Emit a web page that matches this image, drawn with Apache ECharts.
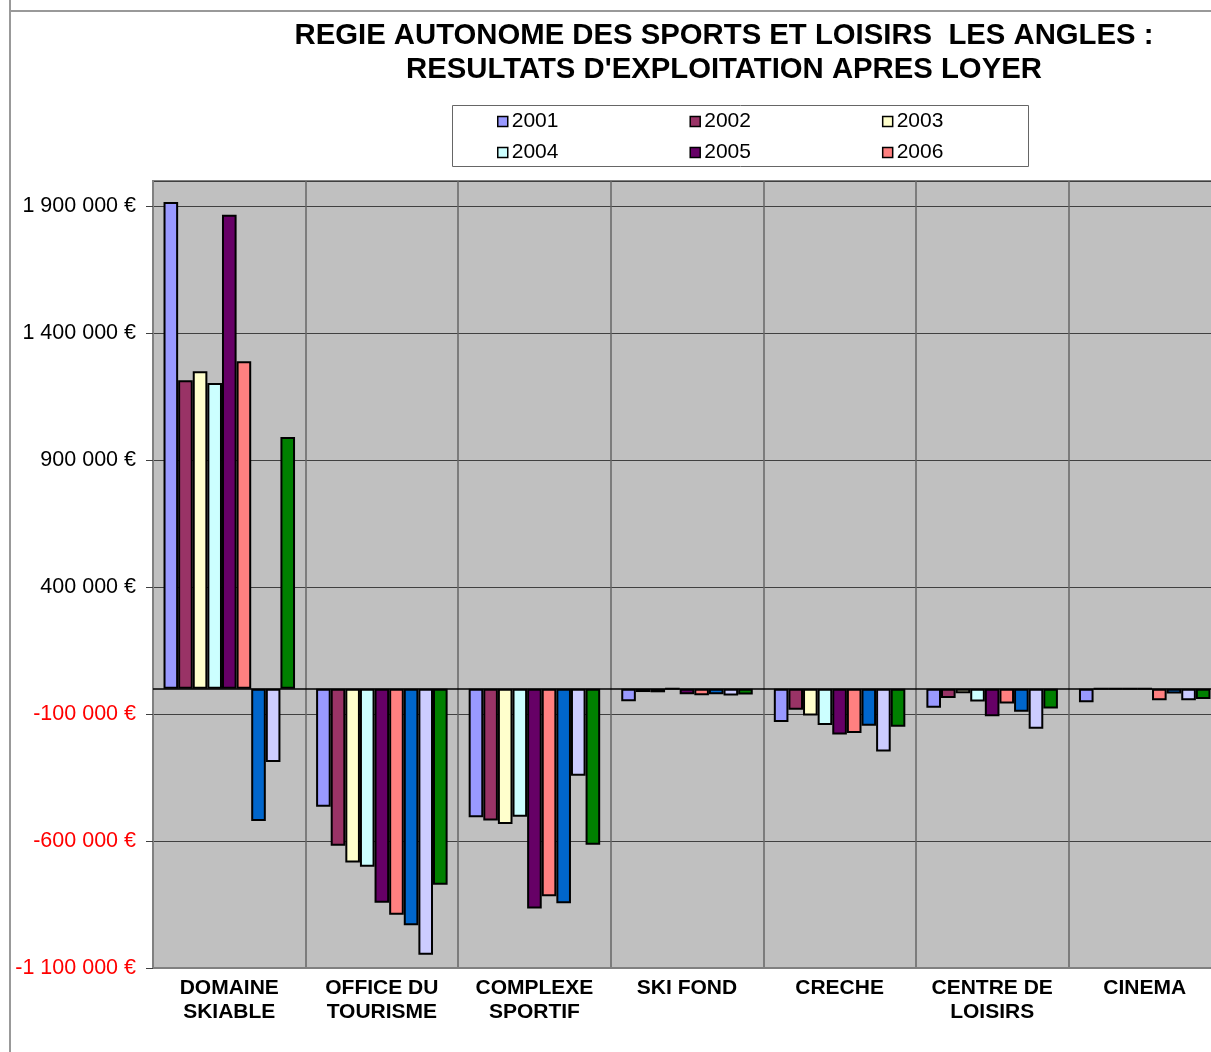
<!DOCTYPE html>
<html>
<head>
<meta charset="utf-8">
<script src="https://cdn.jsdelivr.net/npm/echarts@6/dist/echarts.min.js"></script>
<style>html,body{margin:0;padding:0;background:#fff;overflow:hidden}#c{width:1221px;height:1052px}</style>
</head>
<body>
<div id="c"></div>
<script>
var categories = ['DOMAINE\nSKIABLE', 'OFFICE DU\nTOURISME', 'COMPLEXE\nSPORTIF', 'SKI FOND', 'CRECHE', 'CENTRE DE\nLOISIRS', 'CINEMA'];
var seriesNames = ['2001', '2002', '2003', '2004', '2005', '2006', 'Série 7', 'Série 8', 'Série 9'];
var legendRow1 = ['2001', '2002', '2003'];
var legendRow2 = ['2004', '2005', '2006'];
var s2001 = [1917000, -465000, -506000, -49000, -131000, -75000, -53000];
var s2002 = [1215000, -618000, -519000, -13000, -83000, -36000, 0];
var s2003 = [1251000, -684000, -533000, -14000, -105000, -18000, 0];
var s2004 = [1204000, -701000, -504000, 0, -143000, -50000, 0];
var s2005 = [1867000, -843000, -866000, -22000, -180000, -108000, 0];
var s2006 = [1290000, -890000, -817000, -26000, -174000, -58000, -45000];
var s7 = [-521000, -932000, -845000, -22000, -146000, -91000, -19000];
var s8 = [-289000, -1048000, -343000, -27000, -247000, -158000, -45000];
var s9 = [992000, -772000, -615000, -23000, -150000, -78000, -40000];
var yTicks = { min: -1100000, max: 2000000, interval: 500000 };

var allValues = [s2001, s2002, s2003, s2004, s2005, s2006, s7, s8, s9];
var colors = ['#9999FF', '#993366', '#FFFFCC', '#CCFFFF', '#660066', '#FF8080', '#0066CC', '#CCCCFF', '#008000'];
var FONT = 'Liberation Sans, Arial, sans-serif';

function fmt(v) {
  var neg = v < 0;
  var s = String(Math.abs(v)).replace(/\B(?=(\d{3})+(?!\d))/g, ' ');
  return (neg ? '-' : '') + s + ' €';
}

var series = seriesNames.map(function (n, i) {
  var s = {
    name: n,
    type: 'bar',
    data: allValues[i],
    barGap: '0%',
    barCategoryGap: '13.8%',
    itemStyle: { color: colors[i], borderColor: '#000', borderWidth: 2 },
    emphasis: { disabled: true }
  };
  if (i === 0) {
    s.markLine = {
      silent: true, symbol: 'none', label: { show: false },
      lineStyle: { color: '#000', width: 1.5, type: 'solid' },
      data: [{ yAxis: 0 }]
    };
  }
  return s;
});

var legendCommon = {
  orient: 'horizontal', itemWidth: 10, itemHeight: 10, itemGap: 131,
  icon: 'rect', selectedMode: false,
  itemStyle: { borderColor: '#000', borderWidth: 1.5 },
  textStyle: { fontFamily: FONT, fontSize: 21, color: '#000', padding: [0, 0, 0, -1] },
  padding: 0
};

var chart = echarts.init(document.getElementById('c'));
chart.setOption({
  animation: false,
  backgroundColor: '#fff',
  title: {
    text: 'REGIE AUTONOME DES SPORTS ET LOISIRS  LES ANGLES :\nRESULTATS D\'EXPLOITATION APRES LOYER',
    left: 724, top: 19, textAlign: 'center', padding: 0,
    textStyle: { fontFamily: FONT, fontSize: 29.3, fontWeight: 'bold', color: '#000', lineHeight: 34 }
  },
  legend: [
    Object.assign({}, legendCommon, { data: legendRow1, left: 497, top: 111 }),
    Object.assign({}, legendCommon, { data: legendRow2, left: 497, top: 142 })
  ],
  graphic: [
    { type: 'line', shape: { x1: 10, y1: 0, x2: 10, y2: 1052 }, style: { stroke: '#999', lineWidth: 2 }, z: -1 },
    { type: 'line', shape: { x1: 10, y1: 11, x2: 1221, y2: 11 }, style: { stroke: '#999', lineWidth: 2 }, z: -1 },
    { type: 'rect', shape: { x: 452.5, y: 105.5, width: 576, height: 61 }, style: { fill: '#fff', stroke: '#666', lineWidth: 1 }, z: -1 }
  ],
  grid: {
    left: 153, top: 181, right: 0, bottom: 84,
    show: true, backgroundColor: '#C0C0C0', borderColor: '#808080', borderWidth: 2,
    containLabel: false
  },
  xAxis: {
    type: 'category',
    data: categories,
    axisLine: { onZero: false, lineStyle: { color: '#808080', width: 2 } },
    axisTick: { show: false },
    splitLine: { show: true, lineStyle: { color: '#666', width: 1.5 } },
    axisLabel: {
      interval: 0, margin: 8, fontFamily: FONT, fontSize: 21, fontWeight: 'bold',
      color: '#000', lineHeight: 24
    }
  },
  yAxis: {
    type: 'value',
    min: yTicks.min, max: yTicks.max, interval: yTicks.interval,
    axisLine: { show: true, lineStyle: { color: '#808080', width: 2 } },
    axisTick: { show: true, length: 7, lineStyle: { color: '#404040', width: 1 } },
    splitLine: { show: true, lineStyle: { color: '#404040', width: 1 } },
    axisLabel: {
      showMaxLabel: false, margin: 17,
      formatter: function (v) { return v < 0 ? '{r|' + fmt(v) + '}' : '{b|' + fmt(v) + '}'; },
      rich: {
        r: { color: '#FF0000', fontFamily: FONT, fontSize: 21.5 },
        b: { color: '#000', fontFamily: FONT, fontSize: 21.5 }
      }
    }
  },
  series: series
});
</script>
</body>
</html>
